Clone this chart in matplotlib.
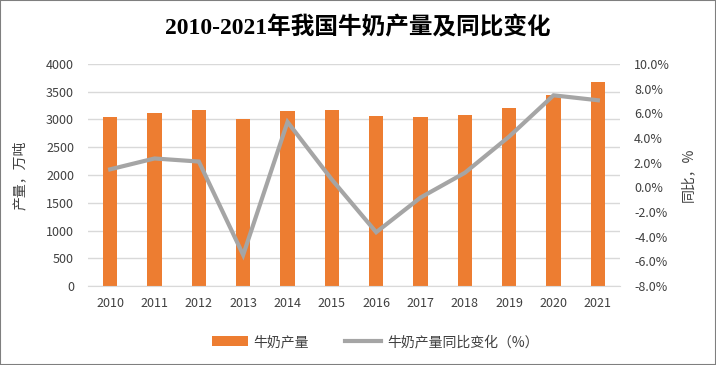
import matplotlib.pyplot as plt
import numpy as np
from matplotlib.ticker import FuncFormatter

plt.rcParams['font.family'] = ['Noto Sans CJK SC', 'DejaVu Sans']

# data
years = ['2010', '2011', '2012', '2013', '2014', '2015',
         '2016', '2017', '2018', '2019', '2020', '2021']
milk_output = [3038.9, 3109.9, 3174.9, 3000.8, 3159.9, 3179.8,
               3064.0, 3038.6, 3074.6, 3201.2, 3440.1, 3683.0]
yoy_change = [1.46, 2.34, 2.09, -5.48, 5.30, 0.63,
              -3.64, -0.83, 1.18, 4.12, 7.46, 7.06]

orange = '#ED7D31'
gray = '#A5A5A5'
text_col = '#404040'

fig = plt.figure(figsize=(7.16, 3.65), dpi=100)
ax = fig.add_axes([0.1229, 0.2164, 0.7431, 0.6083])
ax2 = ax.twinx()

x = np.arange(len(years))
bars = ax.bar(x, milk_output, width=0.32, color=orange, zorder=2, label='牛奶产量')
line, = ax2.plot(x, yoy_change, color=gray, linewidth=3, zorder=3,
                 solid_joinstyle='miter', label='牛奶产量同比变化（%）')

ax.set_xlim(-0.5, len(years) - 0.5)
ax.set_ylim(0, 4000)
ax.set_yticks(np.arange(0, 4001, 500))
ax2.set_ylim(-8, 10)
ax2.set_yticks(np.arange(-8, 10.1, 2))
ax2.yaxis.set_major_formatter(FuncFormatter(lambda v, p: f'{v:.1f}%'))

ax.set_xticks(x)
ax.set_xticklabels(years)
ax.grid(axis='y', color='#D9D9D9', linewidth=1, zorder=0)
ax.set_axisbelow(True)

for a in (ax, ax2):
    for s in a.spines.values():
        s.set_visible(False)
    a.tick_params(length=0, labelsize=9, colors=text_col)
ax.spines['bottom'].set_visible(True)
ax.spines['bottom'].set_color('#D9D9D9')
ax.tick_params(axis='y', pad=10)
ax.tick_params(axis='x', pad=8)
ax2.tick_params(axis='y', pad=10)

ax.set_ylabel('产量，万吨', fontsize=10, color=text_col, labelpad=14)
ax2.set_ylabel('同比，%', fontsize=10, color=text_col, rotation=90, labelpad=8)

fig.text(0.5, 0.925, '2010-2021年我国牛奶产量及同比变化', ha='center', va='center',
         fontsize=17, fontweight='bold', color='black',
         family=['Liberation Serif', 'Noto Sans CJK SC'])

fig.legend(handles=[bars, line], loc='center', bbox_to_anchor=(0.524, 0.063),
           ncol=2, frameon=False, fontsize=10, handlelength=2.6,
           handletextpad=0.4, columnspacing=2.6, labelcolor=text_col)

fig.patches.append(plt.Rectangle((0, 0), 1, 1, transform=fig.transFigure,
                                 fill=False, edgecolor='#7F7F7F', linewidth=1.5))

fig.savefig('out.png', dpi=100)
